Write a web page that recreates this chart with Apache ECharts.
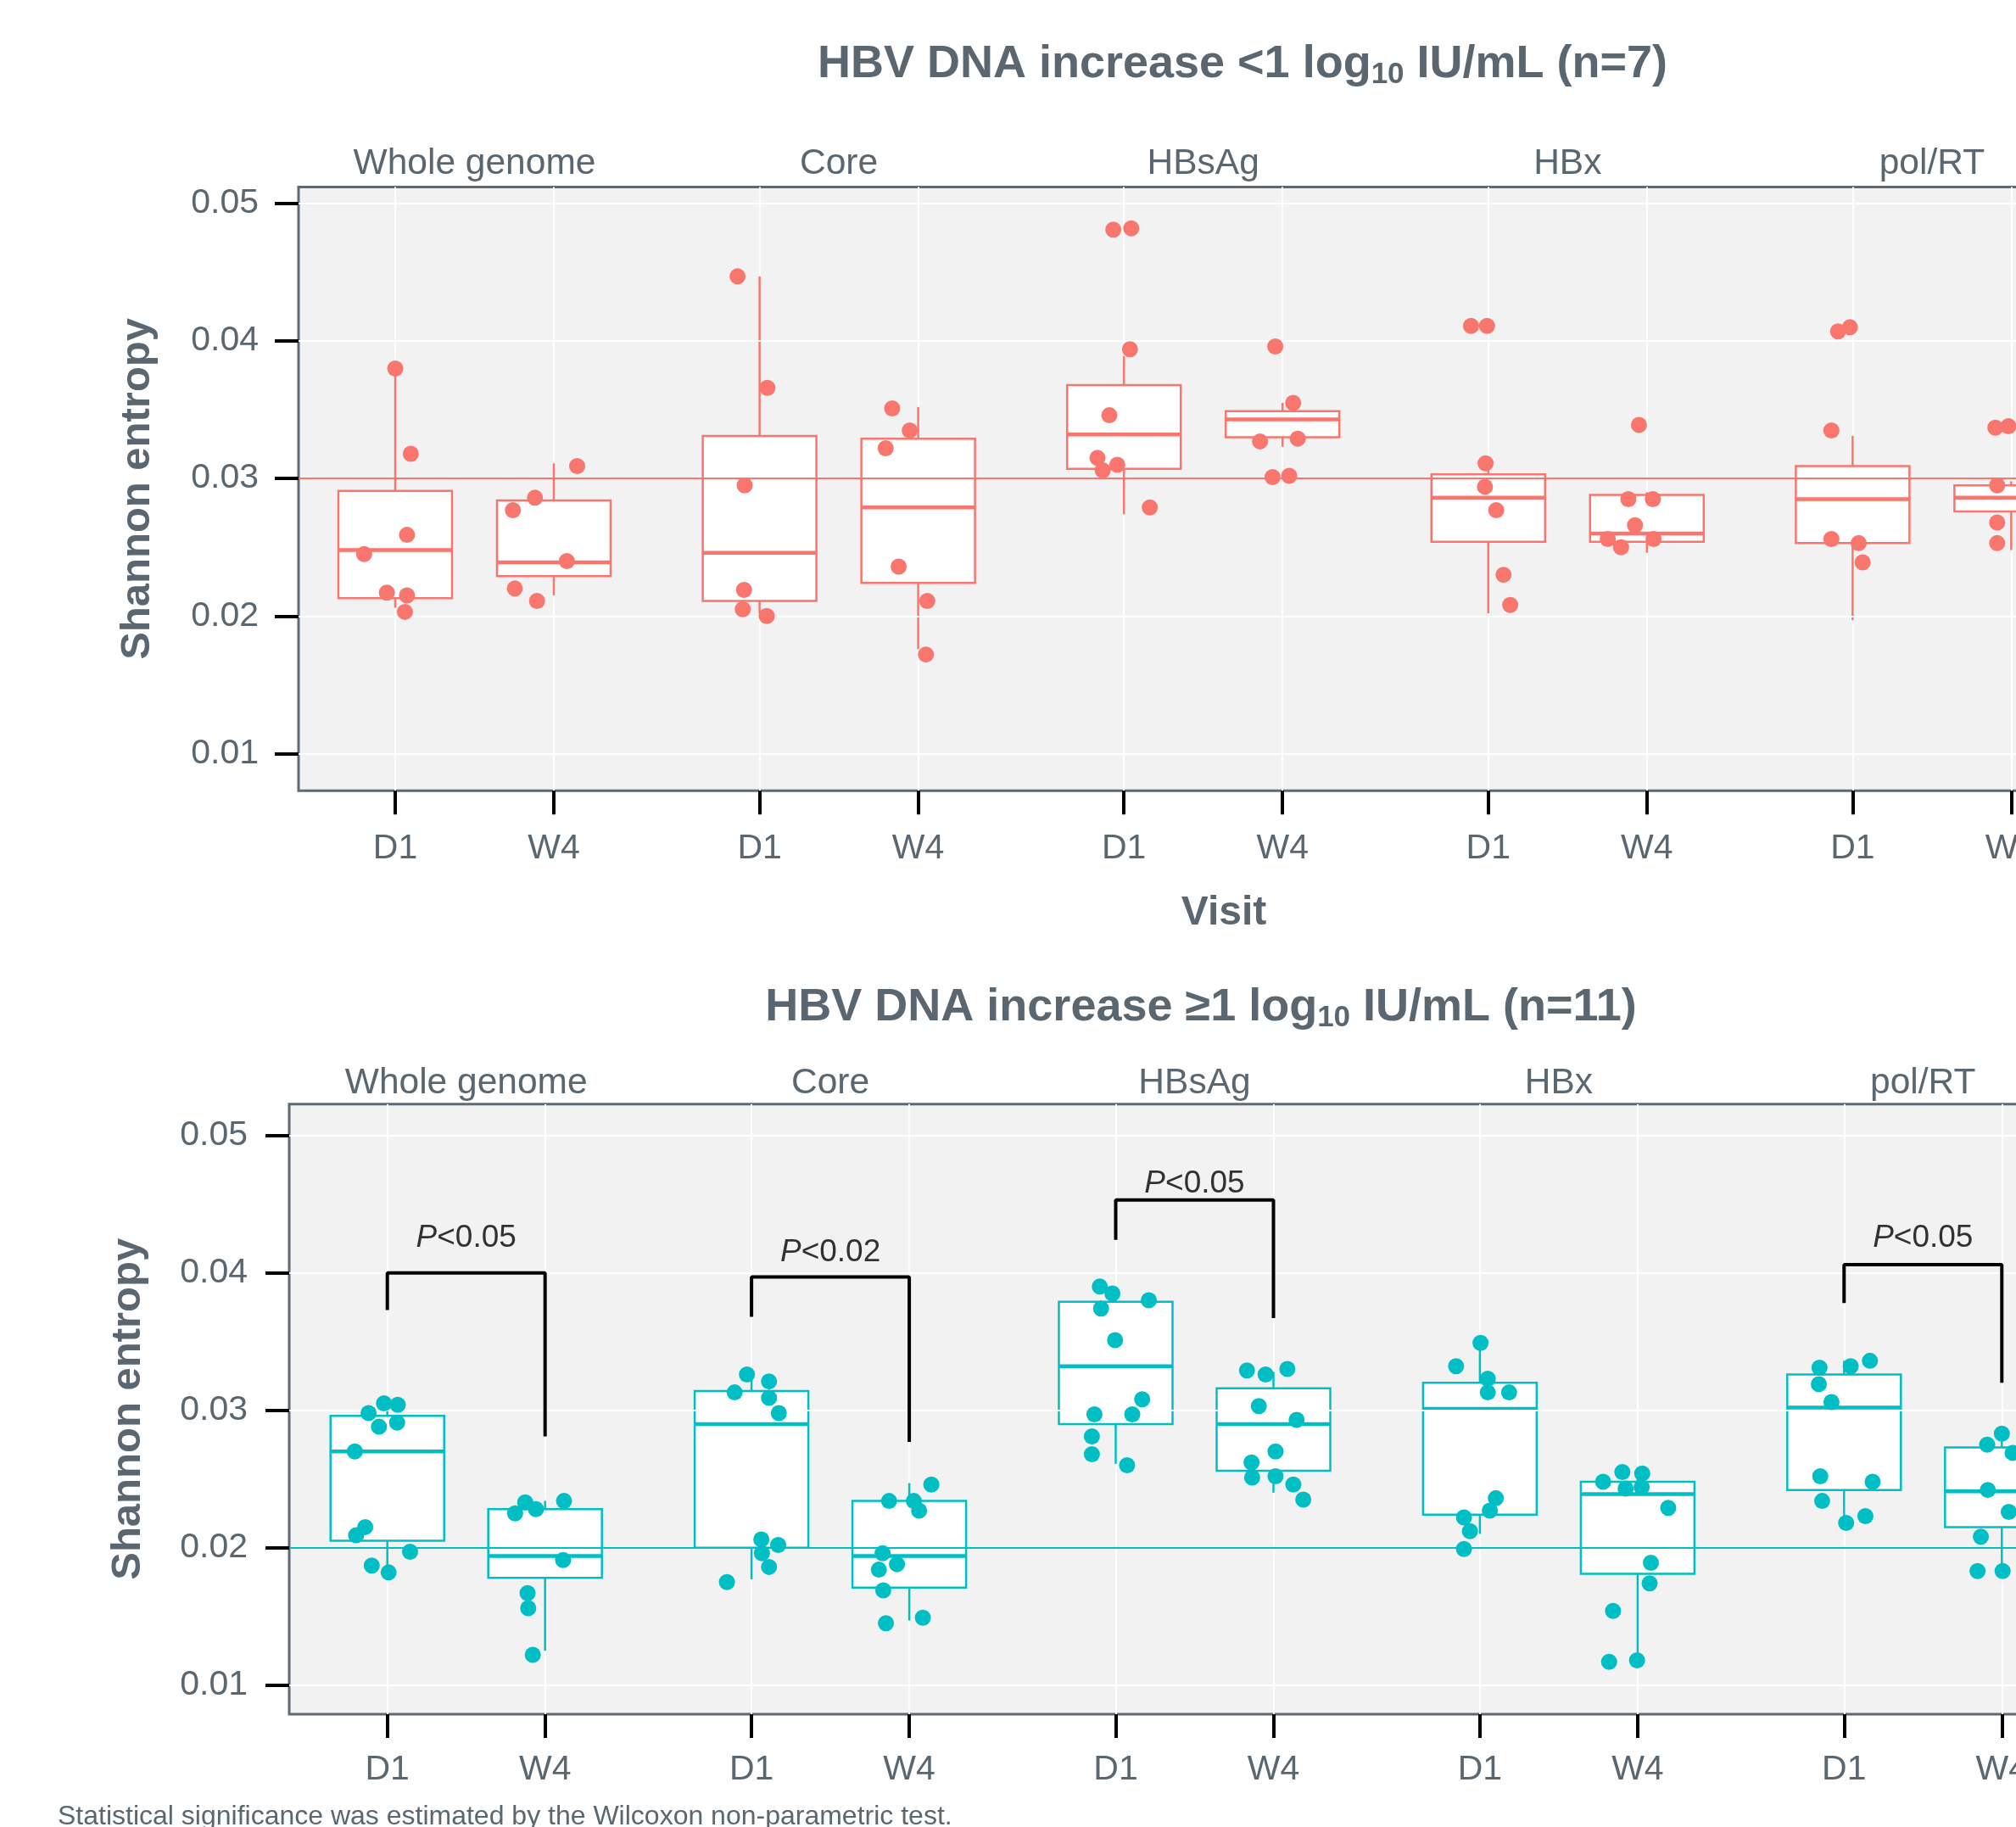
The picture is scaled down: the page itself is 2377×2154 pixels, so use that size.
<!DOCTYPE html>
<html>
<head>
<meta charset="utf-8">
<script src="https://cdn.jsdelivr.net/npm/echarts@6/dist/echarts.min.js"></script>
<style>
  html, body { margin: 0; padding: 0; background: #fff; }
  #chart { width: 2377px; height: 2154px; }
</style>
</head>
<body>
<div id="chart"></div>
<script>
// data
var facets = ['Whole genome', 'Core', 'HBsAg', 'HBx', 'pol/RT'];
var visits = ['D1', 'W4'];
var yTicks = [0.01, 0.02, 0.03, 0.04, 0.05];

// HBV DNA increase <1 log10 (n=7)
// box per facet: [D1, W4], each [low whisker, Q1, median, Q3, high whisker]
var lowBoxes = [
  [[0.0206, 0.0213, 0.0248, 0.0291, 0.0380], [0.0215, 0.0229, 0.0239, 0.0284, 0.0311]],
  [[0.0202, 0.0211, 0.0246, 0.0331, 0.0447], [0.0176, 0.0224, 0.0279, 0.0329, 0.0352]],
  [[0.0274, 0.0307, 0.0332, 0.0368, 0.0389], [0.0323, 0.0330, 0.0343, 0.0349, 0.0355]],
  [[0.0202, 0.0254, 0.0286, 0.0303, 0.0311], [0.0246, 0.0254, 0.0260, 0.0288, 0.0290]],
  [[0.0197, 0.0253, 0.0285, 0.0309, 0.0331], [0.0248, 0.0276, 0.0286, 0.0295, 0.0298]]
];
// points per facet: [D1, W4], each [jitter, entropy]
var lowPoints = [
  [[[0, 0.0380], [0.098, 0.0318], [0.074, 0.0259], [-0.196, 0.0245], [-0.053, 0.0217], [0.074, 0.0215], [0.061, 0.0203]],
   [[-0.258, 0.0277], [-0.119, 0.0286], [0.147, 0.0309], [0.082, 0.0240], [-0.246, 0.0220], [-0.106, 0.0211]]],
  [[[-0.139, 0.0447], [0.049, 0.0366], [-0.094, 0.0295], [-0.098, 0.0219], [-0.106, 0.0205], [0.045, 0.0200]],
   [[-0.164, 0.0351], [-0.053, 0.0335], [-0.205, 0.0322], [-0.123, 0.0236], [0.057, 0.0211], [0.049, 0.0172]]],
  [[[-0.067, 0.0481], [0.046, 0.0482], [0.038, 0.0394], [-0.092, 0.0346], [-0.167, 0.0315], [-0.134, 0.0306], [-0.042, 0.0310], [0.163, 0.0279]],
   [[-0.046, 0.0396], [0.067, 0.0355], [-0.142, 0.0327], [0.096, 0.0329], [-0.063, 0.0301], [0.042, 0.0302]]],
  [[[-0.109, 0.0411], [-0.008, 0.0411], [-0.017, 0.0311], [-0.021, 0.0294], [0.050, 0.0277], [0.096, 0.0230], [0.138, 0.0208]],
   [[-0.050, 0.0339], [-0.117, 0.0285], [0.038, 0.0285], [-0.075, 0.0266], [-0.247, 0.0256], [-0.163, 0.0250], [0.042, 0.0256]]],
  [[[-0.092, 0.0407], [-0.017, 0.0410], [-0.134, 0.0335], [-0.134, 0.0256], [0.038, 0.0253], [0.063, 0.0239]],
   [[-0.100, 0.0337], [-0.018, 0.0338], [-0.089, 0.0295], [-0.089, 0.0268], [-0.089, 0.0253]]]
];

// HBV DNA increase >=1 log10 (n=11)
var highBoxes = [
  [[0.0183, 0.0205, 0.0270, 0.0296, 0.0305], [0.0125, 0.0178, 0.0194, 0.0228, 0.0234]],
  [[0.0177, 0.0200, 0.0290, 0.0314, 0.0326], [0.0147, 0.0171, 0.0194, 0.0234, 0.0247]],
  [[0.0261, 0.0290, 0.0332, 0.0379, 0.0390], [0.0240, 0.0256, 0.0290, 0.0316, 0.0328]],
  [[0.0210, 0.0224, 0.0301, 0.0320, 0.0349], [0.0119, 0.0181, 0.0239, 0.0248, 0.0255]],
  [[0.0218, 0.0242, 0.0302, 0.0326, 0.0336], [0.0183, 0.0215, 0.0241, 0.0273, 0.0283]]
];
var highPoints = [
  [[[-0.119, 0.0298], [-0.021, 0.0305], [0.066, 0.0304], [-0.053, 0.0288], [0.062, 0.0291], [-0.206, 0.0270], [-0.140, 0.0215], [-0.198, 0.0209], [0.144, 0.0197], [-0.099, 0.0187], [0.008, 0.0182]],
   [[-0.126, 0.0233], [-0.190, 0.0225], [-0.058, 0.0228], [0.120, 0.0234], [0.114, 0.0191], [-0.111, 0.0167], [-0.107, 0.0156], [-0.078, 0.0122]]],
  [[[-0.029, 0.0326], [0.111, 0.0321], [-0.107, 0.0313], [0.111, 0.0309], [0.173, 0.0298], [0.062, 0.0206], [0.169, 0.0202], [0.066, 0.0196], [0.111, 0.0186], [-0.156, 0.0175]],
   [[0.140, 0.0246], [-0.128, 0.0234], [0.029, 0.0234], [0.062, 0.0227], [-0.169, 0.0196], [-0.193, 0.0184], [-0.078, 0.0188], [-0.165, 0.0169], [-0.148, 0.0145], [0.086, 0.0149]]],
  [[[-0.101, 0.0390], [-0.021, 0.0385], [0.210, 0.0380], [-0.093, 0.0374], [-0.004, 0.0351], [0.168, 0.0308], [-0.135, 0.0297], [0.105, 0.0297], [-0.151, 0.0281], [-0.151, 0.0268], [0.072, 0.0260]],
   [[-0.168, 0.0329], [-0.050, 0.0326], [0.088, 0.0330], [-0.093, 0.0303], [0.147, 0.0293], [0.013, 0.0270], [-0.139, 0.0262], [-0.135, 0.0251], [0.013, 0.0252], [0.126, 0.0246], [0.189, 0.0235]]],
  [[[0.004, 0.0349], [-0.151, 0.0332], [0.050, 0.0323], [0.050, 0.0313], [0.185, 0.0313], [0.101, 0.0236], [-0.101, 0.0222], [0.063, 0.0227], [-0.063, 0.0212], [-0.101, 0.0199]],
   [[-0.219, 0.0248], [-0.097, 0.0255], [0.029, 0.0254], [-0.076, 0.0243], [0.025, 0.0244], [0.194, 0.0229], [0.084, 0.0189], [0.076, 0.0174], [-0.156, 0.0154], [-0.181, 0.0117], [-0.004, 0.0118]]],
  [[[-0.156, 0.0331], [0.042, 0.0332], [0.164, 0.0336], [-0.160, 0.0319], [-0.080, 0.0306], [-0.151, 0.0252], [0.181, 0.0248], [-0.139, 0.0234], [0.135, 0.0223], [0.013, 0.0218]],
   [[0, 0.0283], [-0.093, 0.0275], [0.068, 0.0269], [-0.089, 0.0242], [0.044, 0.0226], [-0.133, 0.0208], [-0.154, 0.0183], [0.005, 0.0183]]]
];
// significance brackets: [D1 leg end, bar, W4 leg end]
var highBrackets = [[0.0373, 0.0400, 0.0281], [0.0368, 0.0397, 0.0277], [0.0424, 0.0453, 0.0367], null, [0.0378, 0.0406, 0.0320]];
var highPLabelY = [0.0425, 0.0415, 0.0465, null, 0.0425];
var highPText = ['<0.05', '<0.02', '<0.05', null, '<0.05'];

var lowRef = 0.03;
var highRef = 0.02;

var FONT = 'Liberation Sans, Arial, Helvetica, sans-serif';
var SLATE = '#5a6670';

var panels = [
  { title: 'HBV DNA increase <1 log{sub|10} IU/mL (n=7)', titleX: 1465, titleTop: 46,
    left: 352, top: 220.5, height: 711.8, yMin: 0.00729, yMax: 0.05120,
    firstX: 466, pitch: 429.6, span: 187, color: '#F8766D', ref: lowRef,
    boxes: lowBoxes, points: lowPoints, yLabelMargin: 47, xLabelMargin: 48, stripGap: 6, visit: 'Visit' },
  { title: 'HBV DNA increase \u22651 log{sub|10} IU/mL (n=11)', titleX: 1416, titleTop: 1158,
    left: 341, top: 1301.7, height: 719.2, yMin: 0.00789, yMax: 0.05228,
    firstX: 456.7, pitch: 429.4, span: 186, color: '#00BFC4', ref: highRef,
    boxes: highBoxes, points: highPoints, brackets: highBrackets, pY: highPLabelY, pText: highPText,
    yLabelMargin: 49, xLabelMargin: 45, stripGap: 3, visit: '' }
];

// ggplot-like box: no whisker caps, thicker median
function boxRenderer(color) {
  return function (params, api) {
    var x = api.value(0);
    var low = api.coord([x, api.value(1)]);
    var q1 = api.coord([x, api.value(2)]);
    var med = api.coord([x, api.value(3)]);
    var q3 = api.coord([x, api.value(4)]);
    var high = api.coord([x, api.value(5)]);
    var cx = q1[0], half = 67;
    var thin = { stroke: color, lineWidth: 2.5 };
    return {
      type: 'group',
      children: [
        { type: 'line', shape: { x1: cx, y1: high[1], x2: cx, y2: q3[1] }, style: thin },
        { type: 'line', shape: { x1: cx, y1: q1[1], x2: cx, y2: low[1] }, style: thin },
        { type: 'rect', shape: { x: cx - half, y: q3[1], width: half * 2, height: q1[1] - q3[1] },
          style: { fill: '#ffffff', stroke: color, lineWidth: 2.5 } },
        { type: 'line', shape: { x1: cx - half, y1: med[1], x2: cx + half, y2: med[1] },
          style: { stroke: color, lineWidth: 4.5 } }
      ]
    };
  };
}

var titles = [], grids = [], xAxes = [], yAxes = [], series = [];

panels.forEach(function (p) {
  titles.push({
    text: p.title, left: p.titleX, top: p.titleTop, textAlign: 'center', padding: 0,
    textStyle: {
      fontFamily: FONT, fontSize: 54, fontWeight: 'bold', color: SLATE, lineHeight: 60,
      rich: { sub: { fontFamily: FONT, fontSize: 35, fontWeight: 'bold', color: SLATE, lineHeight: 24, verticalAlign: 'bottom' } }
    }
  });

  // whole panel: grey background, border, y axis, reference line
  grids.push({ left: p.left, top: p.top, width: 2182, height: p.height, show: true,
    backgroundColor: '#f2f2f2', borderColor: '#5d6974', borderWidth: 3,
    containLabel: false, outerBoundsMode: 'none' });
  var bg = grids.length - 1;
  xAxes.push({ gridIndex: bg, type: 'value', min: 0, max: 1,
    axisLine: { show: false }, axisTick: { show: false }, axisLabel: { show: false }, splitLine: { show: false },
    name: p.visit, nameLocation: 'middle', nameGap: 120,
    nameTextStyle: { fontFamily: FONT, fontSize: 48, fontWeight: 'bold', color: SLATE } });
  yAxes.push({ gridIndex: bg, type: 'value', min: p.yMin, max: p.yMax,
    axisLine: { show: false },
    axisTick: { show: true, inside: false, length: 28, lineStyle: { color: '#000', width: 4 }, customValues: yTicks },
    axisLabel: { customValues: yTicks, margin: p.yLabelMargin, fontFamily: FONT, fontSize: 41, color: SLATE,
      formatter: function (v) { return v.toFixed(2); } },
    splitLine: { show: false },
    name: 'Shannon entropy', nameLocation: 'middle', nameGap: 165,
    nameTextStyle: { fontFamily: FONT, fontSize: 49, fontWeight: 'bold', color: SLATE } });
  var gridLines = yTicks.map(function (v) {
    return { yAxis: v, lineStyle: { color: '#ffffff', width: 2, type: 'solid' } };
  });
  gridLines.push({ yAxis: p.ref, lineStyle: { color: p.color, width: 2, type: 'solid' } });
  series.push({ type: 'line', xAxisIndex: xAxes.length - 1, yAxisIndex: yAxes.length - 1, data: [], z: 1, silent: true,
    markLine: { silent: true, symbol: ['none', 'none'], label: { show: false }, animation: false, data: gridLines } });

  facets.forEach(function (f, fi) {
    grids.push({ left: p.firstX + fi * p.pitch, top: p.top, width: p.span, height: p.height,
      containLabel: false, outerBoundsMode: 'none' });
    var g = grids.length - 1;
    var catX = xAxes.length;
    xAxes.push({ gridIndex: g, type: 'category', data: visits, boundaryGap: false, position: 'bottom',
      axisLine: { show: false },
      axisTick: { show: true, inside: false, length: 28, interval: 0, lineStyle: { color: '#000', width: 4 } },
      axisLabel: { interval: 0, margin: p.xLabelMargin, fontFamily: FONT, fontSize: 41, color: SLATE },
      splitLine: { show: true, interval: 0, lineStyle: { color: '#ffffff', width: 2 } } });
    var valX = xAxes.length;
    xAxes.push({ gridIndex: g, type: 'value', min: 0, max: 1, position: 'top',
      axisLine: { show: false }, axisTick: { show: false }, axisLabel: { show: false }, splitLine: { show: false },
      name: f, nameLocation: 'middle', nameGap: p.stripGap,
      nameTextStyle: { fontFamily: FONT, fontSize: 42.5, color: SLATE } });
    var yi = yAxes.length;
    yAxes.push({ gridIndex: g, type: 'value', min: p.yMin, max: p.yMax, show: false });

    series.push({ type: 'custom', xAxisIndex: catX, yAxisIndex: yi, z: 3, silent: true,
      renderItem: boxRenderer(p.color),
      encode: { x: 0, y: [1, 2, 3, 4, 5] },
      data: p.boxes[fi].map(function (b, vi) { return [vi].concat(b); }) });

    var pts = [];
    p.points[fi].forEach(function (list, vi) {
      list.forEach(function (d) { pts.push([vi + d[0], d[1]]); });
    });
    series.push({ type: 'scatter', xAxisIndex: valX, yAxisIndex: yi, data: pts, symbolSize: 19, clip: false,
      itemStyle: { color: p.color, opacity: 1 }, z: 5, silent: true });

    if (p.brackets && p.brackets[fi]) {
      var b = p.brackets[fi];
      series.push({ type: 'line', xAxisIndex: valX, yAxisIndex: yi,
        data: [[0, b[0]], [0, b[1]], [1, b[1]], [1, b[2]]],
        symbol: 'none', lineStyle: { color: '#000', width: 4 }, z: 6, silent: true, clip: false });
      series.push({ type: 'scatter', xAxisIndex: valX, yAxisIndex: yi, data: [[0.5, p.pY[fi]]],
        symbolSize: 0, itemStyle: { color: 'rgba(0,0,0,0)' }, z: 6, silent: true,
        label: { show: true, position: 'inside', formatter: '{i|P}' + p.pText[fi],
          fontFamily: FONT, fontSize: 37, color: '#000',
          rich: { i: { fontFamily: FONT, fontSize: 37, fontStyle: 'italic', color: '#000' } } } });
    }
  });
});

titles.push({ text: 'Statistical significance was estimated by the Wilcoxon non-parametric test.',
  left: 68, top: 2126, padding: 0,
  textStyle: { fontFamily: FONT, fontSize: 32, fontWeight: 'normal', color: SLATE } });

var myChart = echarts.init(document.getElementById('chart'), null, { renderer: 'canvas' });
myChart.setOption({
  backgroundColor: '#ffffff',
  animation: false,
  textStyle: { fontFamily: FONT },
  title: titles,
  grid: grids,
  xAxis: xAxes,
  yAxis: yAxes,
  series: series
});
</script>
</body>
</html>
